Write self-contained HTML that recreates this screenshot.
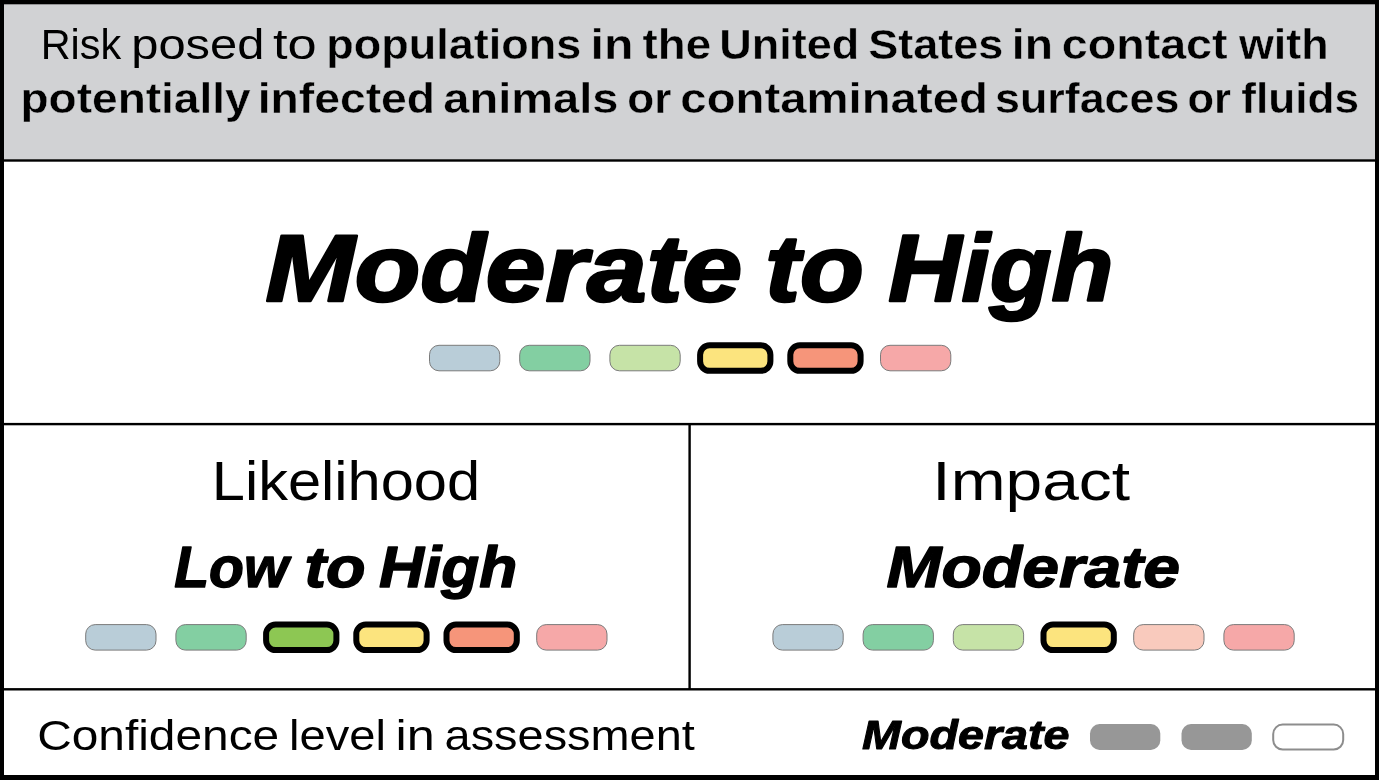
<!DOCTYPE html>
<html><head><meta charset="utf-8"><style>
html,body{margin:0;padding:0;background:#fff;}
body{width:1380px;height:780px;overflow:hidden;position:relative;}
svg{position:absolute;left:0;top:0;display:block;will-change:transform;}
text{font-family:"Liberation Sans", sans-serif;fill:#000;}
</style></head><body>
<svg width="1380" height="780" viewBox="0 0 1380 780">
<rect x="0" y="0" width="1380" height="780" fill="#fff"/>
<rect x="2" y="2" width="1375" height="158.5" fill="#d1d2d4"/>
<rect x="429.50" y="345.30" width="70.3" height="25.5" rx="9.5" fill="#b9cdd8" stroke="#7b7b7b" stroke-width="1"/>
<rect x="519.70" y="345.30" width="70.3" height="25.5" rx="9.5" fill="#83cfa2" stroke="#7b7b7b" stroke-width="1"/>
<rect x="609.90" y="345.30" width="70.3" height="25.5" rx="9.5" fill="#c6e3a7" stroke="#7b7b7b" stroke-width="1"/>
<rect x="700.10" y="345.30" width="70.3" height="25.5" rx="9.5" fill="#fce47e" stroke="#000" stroke-width="6"/>
<rect x="790.30" y="345.30" width="70.3" height="25.5" rx="9.5" fill="#f6957a" stroke="#000" stroke-width="6"/>
<rect x="880.50" y="345.30" width="70.3" height="25.5" rx="9.5" fill="#f6a8a8" stroke="#7b7b7b" stroke-width="1"/>
<rect x="85.70" y="624.60" width="70.3" height="25.5" rx="9.5" fill="#b9cdd8" stroke="#7b7b7b" stroke-width="1"/>
<rect x="175.90" y="624.60" width="70.3" height="25.5" rx="9.5" fill="#83cfa2" stroke="#7b7b7b" stroke-width="1"/>
<rect x="266.10" y="624.60" width="70.3" height="25.5" rx="9.5" fill="#8dc753" stroke="#000" stroke-width="6"/>
<rect x="356.30" y="624.60" width="70.3" height="25.5" rx="9.5" fill="#fce47e" stroke="#000" stroke-width="6"/>
<rect x="446.50" y="624.60" width="70.3" height="25.5" rx="9.5" fill="#f6957a" stroke="#000" stroke-width="6"/>
<rect x="536.70" y="624.60" width="70.3" height="25.5" rx="9.5" fill="#f6a8a8" stroke="#7b7b7b" stroke-width="1"/>
<rect x="772.90" y="624.60" width="70.3" height="25.5" rx="9.5" fill="#b9cdd8" stroke="#7b7b7b" stroke-width="1"/>
<rect x="863.10" y="624.60" width="70.3" height="25.5" rx="9.5" fill="#83cfa2" stroke="#7b7b7b" stroke-width="1"/>
<rect x="953.30" y="624.60" width="70.3" height="25.5" rx="9.5" fill="#c6e3a7" stroke="#7b7b7b" stroke-width="1"/>
<rect x="1043.50" y="624.60" width="70.3" height="25.5" rx="9.5" fill="#fce47e" stroke="#000" stroke-width="6"/>
<rect x="1133.70" y="624.60" width="70.3" height="25.5" rx="9.5" fill="#f9cabd" stroke="#7b7b7b" stroke-width="1"/>
<rect x="1223.90" y="624.60" width="70.3" height="25.5" rx="9.5" fill="#f6a8a8" stroke="#7b7b7b" stroke-width="1"/>
<rect x="1090.00" y="724.10" width="70.3" height="25.8" rx="9.5" fill="#979797"/>
<rect x="1181.50" y="724.10" width="70.3" height="25.8" rx="9.5" fill="#979797"/>
<rect x="1273.20" y="724.60" width="70.0" height="25.0" rx="9.5" fill="#fff" stroke="#8d8d8d" stroke-width="2"/>
<text id="t0" x="40.66" y="59.00" font-size="42.70" font-weight="normal" font-style="normal" textLength="80.55" lengthAdjust="spacingAndGlyphs">Risk</text>
<text id="t1" x="131.26" y="59.00" font-size="42.70" font-weight="normal" font-style="normal" textLength="133.09" lengthAdjust="spacingAndGlyphs">posed</text>
<text id="t2" x="272.94" y="59.00" font-size="42.70" font-weight="normal" font-style="normal" textLength="43.66" lengthAdjust="spacingAndGlyphs">to</text>
<text id="t3" x="326.35" y="59.00" font-size="42.70" font-weight="bold" font-style="normal" textLength="254.90" lengthAdjust="spacingAndGlyphs" stroke="#d1d2d4" stroke-width="0.4" stroke-linejoin="round">populations</text>
<text id="t4" x="590.56" y="59.00" font-size="42.70" font-weight="bold" font-style="normal" textLength="42.81" lengthAdjust="spacingAndGlyphs" stroke="#d1d2d4" stroke-width="0.4" stroke-linejoin="round">in</text>
<text id="t5" x="642.55" y="59.00" font-size="42.70" font-weight="bold" font-style="normal" textLength="68.55" lengthAdjust="spacingAndGlyphs" stroke="#d1d2d4" stroke-width="0.4" stroke-linejoin="round">the</text>
<text id="t6" x="719.27" y="59.00" font-size="42.70" font-weight="bold" font-style="normal" textLength="139.87" lengthAdjust="spacingAndGlyphs" stroke="#d1d2d4" stroke-width="0.4" stroke-linejoin="round">United</text>
<text id="t7" x="868.15" y="59.00" font-size="42.70" font-weight="bold" font-style="normal" textLength="135.31" lengthAdjust="spacingAndGlyphs" stroke="#d1d2d4" stroke-width="0.4" stroke-linejoin="round">States</text>
<text id="t8" x="1011.84" y="59.00" font-size="42.70" font-weight="bold" font-style="normal" textLength="41.07" lengthAdjust="spacingAndGlyphs" stroke="#d1d2d4" stroke-width="0.4" stroke-linejoin="round">in</text>
<text id="t9" x="1061.76" y="59.00" font-size="42.70" font-weight="bold" font-style="normal" textLength="165.85" lengthAdjust="spacingAndGlyphs" stroke="#d1d2d4" stroke-width="0.4" stroke-linejoin="round">contact</text>
<text id="t10" x="1238.98" y="59.00" font-size="42.70" font-weight="bold" font-style="normal" textLength="89.71" lengthAdjust="spacingAndGlyphs" stroke="#d1d2d4" stroke-width="0.4" stroke-linejoin="round">with</text>
<text id="t11" x="20.53" y="112.80" font-size="42.70" font-weight="bold" font-style="normal" textLength="230.08" lengthAdjust="spacingAndGlyphs" stroke="#d1d2d4" stroke-width="0.4" stroke-linejoin="round">potentially</text>
<text id="t12" x="257.66" y="112.80" font-size="42.70" font-weight="bold" font-style="normal" textLength="177.47" lengthAdjust="spacingAndGlyphs" stroke="#d1d2d4" stroke-width="0.4" stroke-linejoin="round">infected</text>
<text id="t13" x="443.37" y="112.80" font-size="42.70" font-weight="bold" font-style="normal" textLength="175.08" lengthAdjust="spacingAndGlyphs" stroke="#d1d2d4" stroke-width="0.4" stroke-linejoin="round">animals</text>
<text id="t14" x="627.22" y="112.80" font-size="42.70" font-weight="bold" font-style="normal" textLength="44.07" lengthAdjust="spacingAndGlyphs" stroke="#d1d2d4" stroke-width="0.4" stroke-linejoin="round">or</text>
<text id="t15" x="680.37" y="112.80" font-size="42.70" font-weight="bold" font-style="normal" textLength="307.48" lengthAdjust="spacingAndGlyphs" stroke="#d1d2d4" stroke-width="0.4" stroke-linejoin="round">contaminated</text>
<text id="t16" x="994.95" y="112.80" font-size="42.70" font-weight="bold" font-style="normal" textLength="184.51" lengthAdjust="spacingAndGlyphs" stroke="#d1d2d4" stroke-width="0.4" stroke-linejoin="round">surfaces</text>
<text id="t17" x="1187.46" y="112.80" font-size="42.70" font-weight="bold" font-style="normal" textLength="43.45" lengthAdjust="spacingAndGlyphs" stroke="#d1d2d4" stroke-width="0.4" stroke-linejoin="round">or</text>
<text id="t18" x="1241.37" y="112.80" font-size="42.70" font-weight="bold" font-style="normal" textLength="117.68" lengthAdjust="spacingAndGlyphs" stroke="#d1d2d4" stroke-width="0.4" stroke-linejoin="round">fluids</text>
<text id="t19" x="265.59" y="300.50" font-size="93.90" font-weight="bold" font-style="italic" textLength="476.42" lengthAdjust="spacingAndGlyphs" stroke="#000" stroke-width="2.6" stroke-linejoin="round">Moderate</text>
<text id="t20" x="765.24" y="300.50" font-size="93.90" font-weight="bold" font-style="italic" textLength="98.46" lengthAdjust="spacingAndGlyphs" stroke="#000" stroke-width="2.6" stroke-linejoin="round">to</text>
<text id="t21" x="888.39" y="300.50" font-size="93.90" font-weight="bold" font-style="italic" textLength="225.05" lengthAdjust="spacingAndGlyphs" stroke="#000" stroke-width="2.6" stroke-linejoin="round">High</text>
<text id="t22" x="211.82" y="499.80" font-size="54.70" font-weight="normal" font-style="normal" textLength="268.32" lengthAdjust="spacingAndGlyphs">Likelihood</text>
<text id="t23" x="174.20" y="587.10" font-size="57.56" font-weight="bold" font-style="italic" textLength="114.30" lengthAdjust="spacingAndGlyphs" stroke="#000" stroke-width="1.4" stroke-linejoin="round">Low</text>
<text id="t24" x="304.42" y="587.10" font-size="57.56" font-weight="bold" font-style="italic" textLength="61.11" lengthAdjust="spacingAndGlyphs" stroke="#000" stroke-width="1.4" stroke-linejoin="round">to</text>
<text id="t25" x="378.99" y="587.10" font-size="57.56" font-weight="bold" font-style="italic" textLength="138.24" lengthAdjust="spacingAndGlyphs" stroke="#000" stroke-width="1.4" stroke-linejoin="round">High</text>
<text id="t26" x="932.39" y="500.00" font-size="55.70" font-weight="normal" font-style="normal" textLength="197.66" lengthAdjust="spacingAndGlyphs">Impact</text>
<text id="t27" x="886.59" y="587.20" font-size="57.85" font-weight="bold" font-style="italic" textLength="293.41" lengthAdjust="spacingAndGlyphs" stroke="#000" stroke-width="1.4" stroke-linejoin="round">Moderate</text>
<text id="t28" x="37.15" y="749.80" font-size="42.20" font-weight="normal" font-style="normal" textLength="242.09" lengthAdjust="spacingAndGlyphs">Confidence</text>
<text id="t29" x="288.98" y="749.80" font-size="42.20" font-weight="normal" font-style="normal" textLength="96.88" lengthAdjust="spacingAndGlyphs">level</text>
<text id="t30" x="395.55" y="749.80" font-size="42.20" font-weight="normal" font-style="normal" textLength="39.23" lengthAdjust="spacingAndGlyphs">in</text>
<text id="t31" x="444.58" y="749.80" font-size="42.20" font-weight="normal" font-style="normal" textLength="250.23" lengthAdjust="spacingAndGlyphs">assessment</text>
<text id="t32" x="861.99" y="749.20" font-size="40.55" font-weight="bold" font-style="italic" textLength="207.62" lengthAdjust="spacingAndGlyphs" stroke="#000" stroke-width="1.0" stroke-linejoin="round">Moderate</text>
<rect x="0" y="159.3" width="1379" height="2.4" fill="#000"/>
<rect x="0" y="422.9" width="1379" height="2.4" fill="#000"/>
<rect x="0" y="688.1" width="1379" height="2.4" fill="#000"/>
<rect x="688.4" y="423.9" width="2.4" height="265.20000000000005" fill="#000"/>
<rect x="0" y="0" width="1379" height="4.3" fill="#000"/>
<rect x="0" y="0" width="4.0" height="780" fill="#000"/>
<rect x="1375" y="0" width="4" height="780" fill="#000"/>
<rect x="0" y="775" width="1379" height="5" fill="#000"/>
</svg>
</body></html>
